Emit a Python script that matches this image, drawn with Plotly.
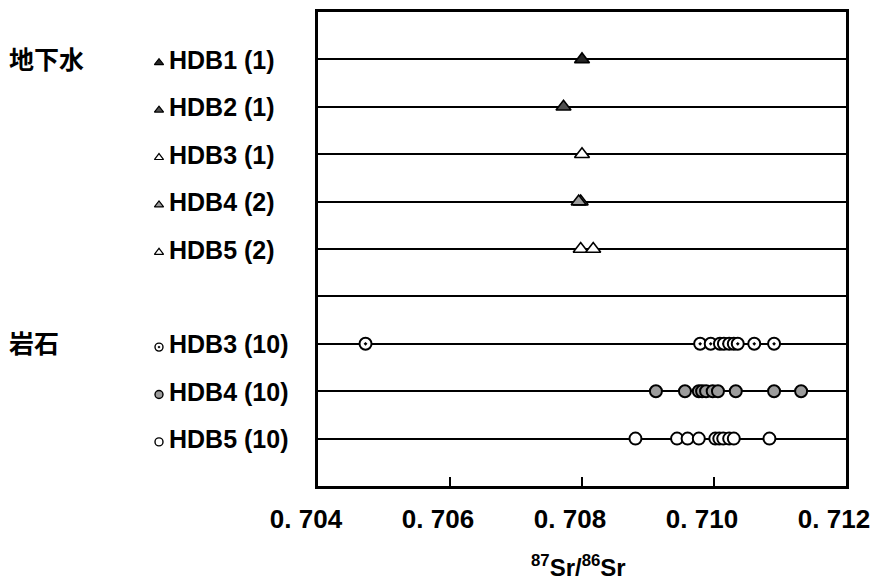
import plotly.graph_objects as go

# Groundwater samples (rows 1-5)
gw_labels = ["HDB1 (1)", "HDB2 (1)", "HDB3 (1)", "HDB4 (2)", "HDB5 (2)"]
gw_values = [
    [0.70800],
    [0.70772],
    [0.70800],
    [0.70798, 0.70795],
    [0.70798, 0.70817],
]
gw_rows = [1, 2, 3, 4, 5]

# Rock samples (rows 7-9)
rock_labels = ["HDB3 (10)", "HDB4 (10)", "HDB5 (10)"]
rock_values = [
    [0.70472, 0.70979, 0.70995, 0.71009, 0.71015, 0.71023, 0.71030, 0.71036, 0.71061, 0.71091],
    [0.70912, 0.70956, 0.70977, 0.70982, 0.70988, 0.70998, 0.71006, 0.71033, 0.71091, 0.71132],
    [0.70881, 0.70944, 0.70960, 0.70977, 0.71002, 0.71008, 0.71014, 0.71023, 0.71030, 0.71084],
]
rock_rows = [7, 8, 9]

group_names = ["地下水", "岩石"]
group_rows = [1, 7]

all_rows = list(range(1, 10))
x_ticks = [0.704, 0.706, 0.708, 0.710, 0.712]
x_tick_text = ["0. 704", "0. 706", "0. 708", "0. 710", "0. 712"]

W, H = 871, 583
M_L, M_R, M_T, M_B = 0, 25, 12, 97
plot_w = W - M_L - M_R
plot_h = H - M_T - M_B
data_left = 318
label_w = 306

gw_fill = ["#262626", "#505050", "white", "#9c9c9c", "white"]
rock_symbol = ["circle-dot", "circle", "circle"]
rock_fill = ["white", "#9c9c9c", "white"]

LATIN = "Liberation Sans, Arial, sans-serif"
CJK = "Noto Sans CJK JP, Noto Sans CJK SC, sans-serif"

fig = go.Figure()

# data marks
for vals, row, fill in zip(gw_values, gw_rows, gw_fill):
    fig.add_trace(go.Scatter(
        x=vals, y=[row] * len(vals), mode="markers", xaxis="x", yaxis="y",
        marker=dict(symbol="triangle-up", size=13, color=fill,
                    line=dict(color="black", width=1.6)),
        showlegend=False, hoverinfo="x"))
for vals, row, sym, fill in zip(rock_values, rock_rows, rock_symbol, rock_fill):
    fig.add_trace(go.Scatter(
        x=vals, y=[row] * len(vals), mode="markers", xaxis="x", yaxis="y",
        marker=dict(symbol=sym, size=12, color=fill,
                    line=dict(color="black", width=2)),
        showlegend=False, hoverinfo="x"))

# row labels: small symbol + sample name
fig.add_trace(go.Scatter(
    x=[159] * len(gw_rows), y=[r + 0.07 for r in gw_rows], mode="markers",
    xaxis="x2", yaxis="y2",
    marker=dict(symbol="triangle-up", size=8, color=gw_fill,
                line=dict(color="black", width=1.2)),
    showlegend=False, hoverinfo="skip"))
fig.add_trace(go.Scatter(
    x=[159] * len(rock_rows), y=[r + 0.07 for r in rock_rows], mode="markers",
    xaxis="x2", yaxis="y2",
    marker=dict(symbol=rock_symbol, size=8, color=rock_fill,
                line=dict(color="black", width=1.4)),
    showlegend=False, hoverinfo="skip"))
fig.add_trace(go.Scatter(
    x=[169] * (len(gw_rows) + len(rock_rows)),
    y=[r + 0.07 for r in gw_rows + rock_rows],
    text=gw_labels + rock_labels, mode="text", textposition="middle right",
    xaxis="x2", yaxis="y2",
    textfont=dict(family=LATIN, size=25, color="black", weight="bold"),
    showlegend=False, hoverinfo="skip"))
fig.add_trace(go.Scatter(
    x=[9] * len(group_rows), y=[r + 0.07 for r in group_rows],
    text=group_names, mode="text", textposition="middle right",
    xaxis="x2", yaxis="y2",
    textfont=dict(family=CJK, size=25, color="black", weight="bold"),
    showlegend=False, hoverinfo="skip"))

fig.add_annotation(
    text="<sup>87</sup>Sr/<sup>86</sup>Sr", xref="paper", yref="paper",
    x=578 / plot_w, y=-(566 - M_T - plot_h) / plot_h,
    xanchor="center", yanchor="middle", showarrow=False,
    font=dict(family=LATIN, size=24, color="black", weight="bold"))

fig.update_layout(
    width=W, height=H,
    margin=dict(l=M_L, r=M_R, t=M_T, b=M_B, pad=0, autoexpand=False),
    paper_bgcolor="white", plot_bgcolor="white",
    xaxis=dict(
        domain=[data_left / plot_w, 1], range=[0.704, 0.712],
        tickvals=x_ticks, ticktext=x_tick_text,
        ticks="inside", ticklen=9, tickwidth=1.5, tickcolor="black",
        ticklabelstandoff=8, ticklabelshift=-12,
        ticklabeloverflow="allow",
        tickfont=dict(family=LATIN, size=26, color="black", weight="bold"),
        showgrid=False, zeroline=False, automargin=False,
        showline=True, linecolor="black", linewidth=3, mirror=True,
        anchor="y"),
    yaxis=dict(
        domain=[0, 1], range=[10, 0], tickvals=all_rows,
        showticklabels=False, ticks="", automargin=False,
        showgrid=True, gridcolor="black", gridwidth=2, zeroline=False,
        showline=True, linecolor="black", linewidth=3, mirror=True,
        anchor="x"),
    xaxis2=dict(domain=[0, label_w / plot_w], range=[0, label_w],
                visible=False, anchor="y2", automargin=False),
    yaxis2=dict(domain=[0, 1], range=[10, 0], visible=False, anchor="x2",
                automargin=False),
)

fig.write_html("out.html")
